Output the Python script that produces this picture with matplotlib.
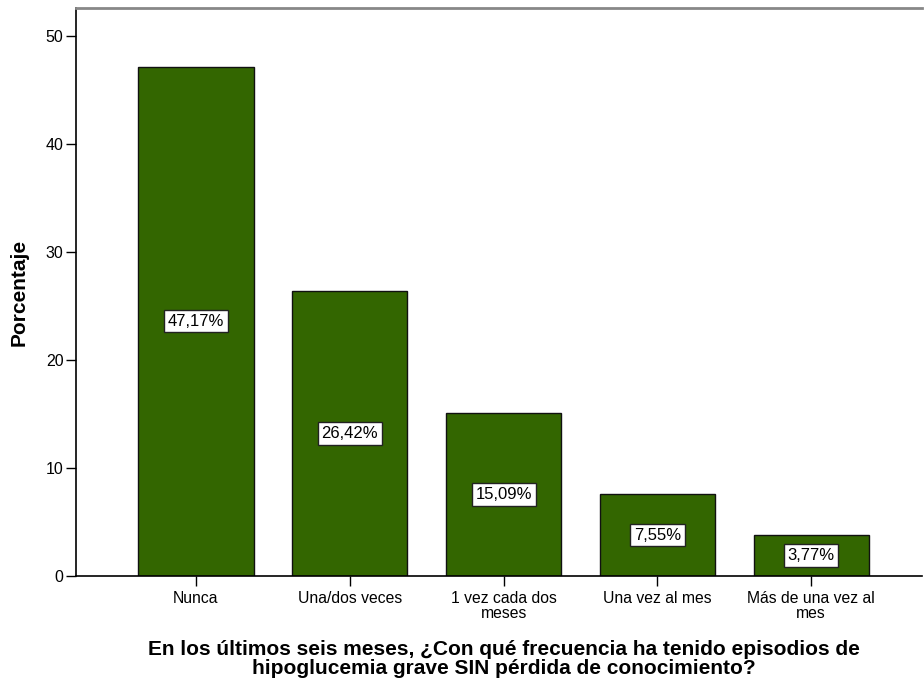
import matplotlib
matplotlib.use("Agg")
import matplotlib.pyplot as plt
import numpy as np

categories = ["Nunca", "Una/dos veces", "1 vez cada dos\nmeses", "Una vez al mes",
              "Más de una vez al\nmes"]
percent = [47.17, 26.42, 15.09, 7.55, 3.77]
bar_labels = ["47,17%", "26,42%", "15,09%", "7,55%", "3,77%"]
yticks = [0, 10, 20, 30, 40, 50]

plt.rcParams["font.family"] = ["Liberation Sans", "DejaVu Sans"]

fig = plt.figure(figsize=(9.24, 6.86), dpi=100)
ax = fig.add_axes([76 / 924, 1 - 576 / 686, (922 - 76) / 924, (576 - 8) / 686])

x = np.arange(len(categories))
ax.bar(x, percent, width=0.75, color="#336600", edgecolor="#111111", linewidth=1.0, zorder=2)

for xi, v, lab in zip(x, percent, bar_labels):
    ax.text(xi, v / 2, lab, ha="center", va="center", fontsize=12, zorder=3,
            bbox=dict(boxstyle="square,pad=0.22", facecolor="white", edgecolor="#222222", linewidth=1.0))

ax.set_xlim(-0.78, 4.72)
ax.set_ylim(0, 52.6)
ax.set_yticks(yticks)
ax.set_xticks(x)
ax.set_xticklabels(categories, fontsize=11.3, linespacing=0.95)
ax.tick_params(axis="y", labelsize=11.5, length=7, width=1, pad=2, colors="black")
ax.tick_params(axis="x", length=7, width=1, pad=4)

ax.spines["left"].set_linewidth(1.2)
ax.spines["bottom"].set_linewidth(1.2)
ax.spines["top"].set_color("#888888")
ax.spines["top"].set_linewidth(2)
ax.spines["right"].set_visible(False)

ax.set_ylabel("Porcentaje", fontsize=15, fontweight="bold", labelpad=12)
fig.text(504 / 924, 1 - 659 / 686,
         "En los últimos seis meses, ¿Con qué frecuencia ha tenido episodios de\n"
         "hipoglucemia grave SIN pérdida de conocimiento?",
         ha="center", va="center", fontsize=15, fontweight="bold", linespacing=1.05)

fig.savefig("out.png", dpi=100)
